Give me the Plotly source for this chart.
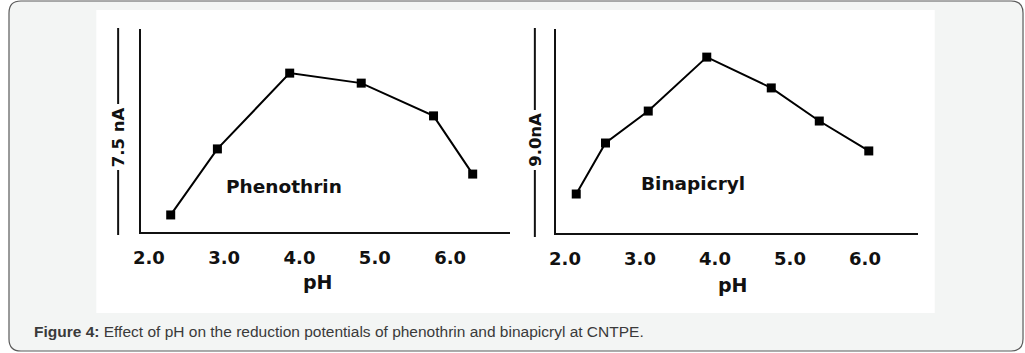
import plotly.graph_objects as go

W, H = 1025, 353

# ---- data ----
ph_ticks = [2.0, 3.0, 4.0, 5.0, 6.0]
ph_tick_text = ["2.0", "3.0", "4.0", "5.0", "6.0"]

phenothrin_ph = [2.29, 2.91, 3.87, 4.82, 5.78, 6.30]
phenothrin_current = [0.63, 3.07, 5.87, 5.50, 4.29, 2.14]   # nA

binapicryl_ph = [2.15, 2.54, 3.11, 3.89, 4.75, 5.39, 6.05]
binapicryl_current = [1.72, 3.97, 5.38, 7.76, 6.40, 4.94, 3.62]  # nA

phenothrin_scale = "7.5 nA"
binapicryl_scale = "9.0nA"
caption_bold = "Figure 4:"
caption_text = " Effect of pH on the reduction potentials of phenothrin and binapicryl at CNTPE."


def px(x):
    return x / W


def py(y):
    return 1 - y / H


FONT = "DejaVu Sans"

fig = go.Figure()

marker = dict(symbol="square", size=9, color="black")
line = dict(color="black", width=2)

fig.add_trace(go.Scatter(x=phenothrin_ph, y=phenothrin_current, mode="lines+markers",
                         marker=marker, line=line, xaxis="x", yaxis="y",
                         cliponaxis=False, showlegend=False, name="Phenothrin"))
fig.add_trace(go.Scatter(x=binapicryl_ph, y=binapicryl_current, mode="lines+markers",
                         marker=marker, line=line, xaxis="x2", yaxis="y2",
                         cliponaxis=False, showlegend=False, name="Binapicryl"))

tickfont = dict(family=FONT, size=18, color="#111", weight="bold")
xcommon = dict(showline=True, linecolor="#111", linewidth=2, showgrid=False, zeroline=False,
               tickvals=ph_ticks, ticktext=ph_tick_text, tickfont=tickfont,
               ticks="", ticklabelstandoff=8, fixedrange=True)
ycommon = dict(showline=True, linecolor="#111", linewidth=2, showgrid=False, zeroline=False,
               showticklabels=False, ticks="", fixedrange=True)

fig.update_layout(
    width=W, height=H,
    margin=dict(l=0, r=0, t=0, b=0),
    paper_bgcolor="white",
    plot_bgcolor="rgba(0,0,0,0)",
    xaxis=dict(domain=[px(134), px(506)], range=[1.895, 6.796], anchor="y", **xcommon),
    yaxis=dict(domain=[py(232), py(29)], range=[0, 7.5], anchor="x", **ycommon),
    xaxis2=dict(domain=[px(552), px(917)], range=[1.876, 6.704], anchor="y2", **xcommon),
    yaxis2=dict(domain=[py(233), py(29)], range=[0, 9.0], anchor="x2", **ycommon),
)

# ---- background frame (rounded) and white panel ----
x0, y0, x1, y1, r = 1, 1, 1023, 351, 12


def P(x, y):
    return f"{px(x):.5f},{py(y):.5f}"


path = (f"M {P(x0 + r, y0)} L {P(x1 - r, y0)} Q {P(x1, y0)} {P(x1, y0 + r)} "
        f"L {P(x1, y1 - r)} Q {P(x1, y1)} {P(x1 - r, y1)} "
        f"L {P(x0 + r, y1)} Q {P(x0, y1)} {P(x0, y1 - r)} "
        f"L {P(x0, y0 + r)} Q {P(x0, y0)} {P(x0 + r, y0)} Z")

shapes = [
    dict(type="path", path=path, xref="paper", yref="paper", layer="below",
         fillcolor="#f3f5f4", line=dict(color="#5a5a5a", width=1.2)),
    dict(type="rect", xref="paper", yref="paper", layer="below",
         x0=px(89), x1=px(934), y0=py(313), y1=py(10),
         fillcolor="white", line=dict(width=0)),
]

# scale bars (vertical lines broken by their label)
for xb, segs in [(111, [(28, 104), (170, 235)]), (531, [(28, 110), (170, 237)])]:
    for (ya, yb) in segs:
        shapes.append(dict(type="line", xref="paper", yref="paper",
                           x0=px(xb), x1=px(xb), y0=py(ya), y1=py(yb),
                           line=dict(color="#111", width=2)))

fig.update_layout(shapes=shapes)

annots = [
    dict(x=px(111), y=py(137), text=phenothrin_scale, textangle=-90,
         font=dict(family=FONT, size=16.5, color="#111", weight="bold")),
    dict(x=px(531), y=py(140), text=binapicryl_scale, textangle=-90,
         font=dict(family=FONT, size=16.5, color="#111", weight="bold")),
    dict(x=px(278), y=py(186), text="Phenothrin",
         font=dict(family=FONT, size=18.5, color="#111", weight="bold")),
    dict(x=px(690), y=py(183), text="Binapicryl",
         font=dict(family=FONT, size=18.5, color="#111", weight="bold")),
    dict(x=px(312), y=py(282), text="pH",
         font=dict(family=FONT, size=19, color="#111", weight="bold")),
    dict(x=px(731), y=py(285), text="pH",
         font=dict(family=FONT, size=19, color="#111", weight="bold")),
    dict(x=px(24), y=py(331), xanchor="left", text=f"<b>{caption_bold}</b>{caption_text}",
         font=dict(family="Liberation Sans", size=15.5, color="#3a3a3a")),
]
for a in annots:
    a.setdefault("xanchor", "center")
    a.update(xref="paper", yref="paper", yanchor="middle", showarrow=False)
fig.update_layout(annotations=annots)

fig.write_html("out.html")
